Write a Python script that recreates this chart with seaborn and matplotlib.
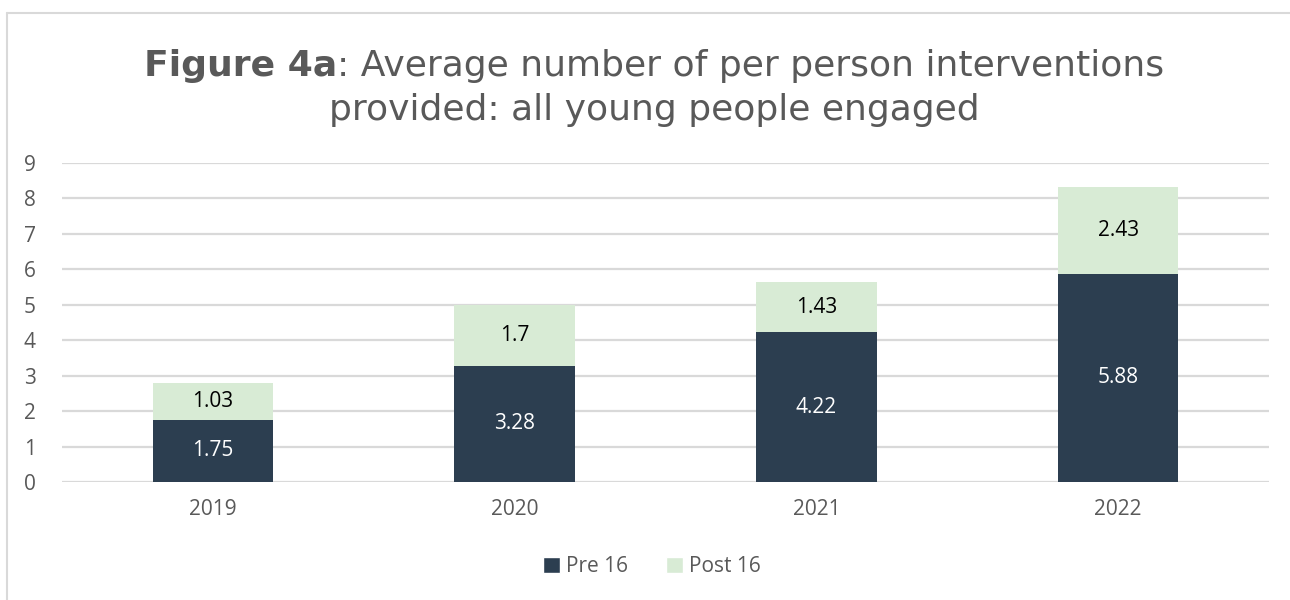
import matplotlib
matplotlib.use("Agg")
import matplotlib.pyplot as plt
from matplotlib.lines import Line2D
from matplotlib.patches import Patch
import seaborn as sns
import pandas as pd

years = ["2019", "2020", "2021", "2022"]
pre16 = [1.75, 3.28, 4.22, 5.88]
post16 = [1.03, 1.7, 1.43, 2.43]
y_ticks = [0, 1, 2, 3, 4, 5, 6, 7, 8, 9]

DARK = "#2c3e50"
LIGHT = "#d8ebd5"
GRID = "#d9d9d9"
TEXT = "#595959"

sns.set_theme(style="white")
plt.rcParams["font.family"] = ["Open Sans", "DejaVu Sans"]

df = pd.DataFrame({"year": years, "pre": pre16, "post": post16})
df["total"] = df["pre"] + df["post"]

fig = plt.figure(figsize=(12.9, 6.0), dpi=100)
ax = fig.add_axes([62 / 1290, 1 - 482 / 600, (1269 - 62) / 1290, (482 - 163) / 600])

# stacked bars: full height in the light colour, lower segment in the dark colour
sns.barplot(data=df, x="year", y="total", color=LIGHT, width=0.4, ax=ax,
            saturation=1, linewidth=0, zorder=3)
sns.barplot(data=df, x="year", y="pre", color=DARK, width=0.4, ax=ax,
            saturation=1, linewidth=0, zorder=3)

ax.set_ylim(0, 9)
ax.set_xlim(-0.5, 3.5)
ax.set_yticks(y_ticks)
ax.set_xlabel("")
ax.set_ylabel("")
ax.yaxis.grid(True, color=GRID, linewidth=1.6, zorder=0)
ax.set_axisbelow(True)
for s in ax.spines.values():
    s.set_visible(False)
ax.tick_params(axis="y", length=0, pad=19, labelsize=15, labelcolor=TEXT)
ax.tick_params(axis="x", length=0, pad=12, labelsize=15, labelcolor=TEXT)

# segment value labels
for i, (p, q) in enumerate(zip(pre16, post16)):
    ax.text(i, p / 2, f"{p:g}", ha="center", va="center", color="white", fontsize=15, zorder=5)
    ax.text(i, p + q / 2, f"{q:g}", ha="center", va="center", color="black", fontsize=15, zorder=5)

# legend
handles = [Patch(facecolor=DARK, label="Pre 16"), Patch(facecolor=LIGHT, label="Post 16")]
fig.legend(handles=handles, loc="center", bbox_to_anchor=(652 / 1290, 1 - 567 / 600), ncol=2,
           frameon=False, fontsize=15, labelcolor=TEXT, handlelength=0.8, handleheight=0.8,
           handletextpad=0.3, columnspacing=1.8)

# two-line title with bold figure number
title_font = ["DejaVu Sans"]
fig.canvas.draw()
renderer = fig.canvas.get_renderer()
tsize = 26
p1 = fig.text(0, 0, "Figure 4a", fontsize=tsize, fontweight="bold", color=TEXT, family=title_font)
p2 = fig.text(0, 0, ": Average number of per person interventions", fontsize=tsize, color=TEXT,
              family=title_font)
w1 = p1.get_window_extent(renderer).width
w2 = p2.get_window_extent(renderer).width
cx = 654
x0 = cx - (w1 + w2) / 2
y1 = 1 - 76 / 600
p1.set_position((x0 / 1290, y1))
p2.set_position(((x0 + w1) / 1290, y1))
fig.text(cx / 1290, 1 - 120 / 600, "provided: all young people engaged", fontsize=tsize, color=TEXT,
         family=title_font, ha="center", va="baseline")

# chart frame (top and left edges)
fig.add_artist(Line2D([7 / 1290, 1.0], [1 - 13 / 600, 1 - 13 / 600], color=GRID, linewidth=1.5))
fig.add_artist(Line2D([7 / 1290, 7 / 1290], [0.0, 1 - 13 / 600], color=GRID, linewidth=1.5))

fig.savefig("out.png", dpi=100)
